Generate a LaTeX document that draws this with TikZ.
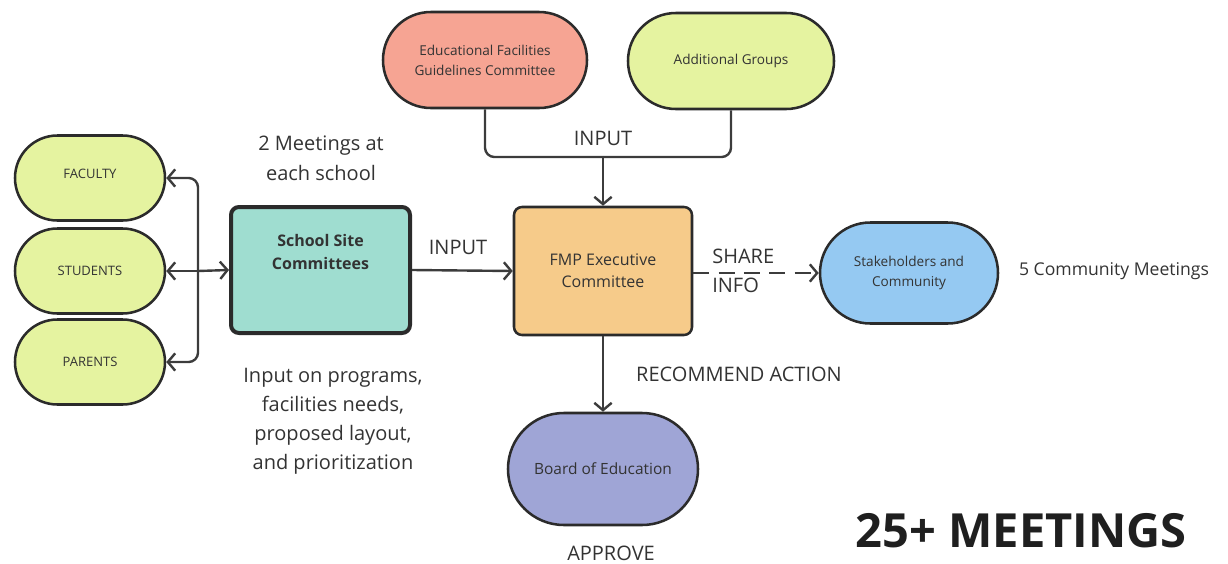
\documentclass[tikz,border=0pt]{standalone}
\usepackage{fontspec}
\setmainfont{Open Sans}
\usetikzlibrary{arrows.meta}
\definecolor{ink}{HTML}{2B2B2B}
\definecolor{txt}{HTML}{333333}
\definecolor{wire}{HTML}{3C3C3C}
\definecolor{limefill}{HTML}{E5F3A0}
\definecolor{tealfill}{HTML}{9FDDD0}
\definecolor{orangefill}{HTML}{F6CB8A}
\definecolor{salmonfill}{HTML}{F6A493}
\definecolor{skyfill}{HTML}{95C9F2}
\definecolor{lavfill}{HTML}{9FA5D6}
\tikzset{
  pill/.style={draw=ink, line width=1.9pt, text=txt, align=center, inner sep=0pt},
  box/.style={draw=ink, line width=1.9pt, text=txt, align=center, inner sep=0pt, rounded corners=6pt},
  arr/.style={draw=wire, line width=1.8pt, -{Straight Barb[length=5.5pt,width=13pt,line width=1.8pt]}},
  wireline/.style={draw=wire, line width=1.8pt},
  lbl/.style={text=txt, align=center, inner sep=0pt},
  caplbl/.style={lbl, font=\fontsize{15}{18}\selectfont},
}
\begin{document}
\begin{tikzpicture}[x=0.75pt,y=-0.75pt]
\useasboundingbox (0,0) rectangle (1228,564);

% stakeholder pills on the left
\node[pill, fill=limefill, minimum width=112.5pt, minimum height=63.75pt, rounded corners=31.8pt,
  font=\fontsize{9.75}{12}\selectfont, text depth=6pt] (faculty) at (90,178) {FACULTY};
\node[pill, fill=limefill, minimum width=112.5pt, minimum height=63.75pt, rounded corners=31.8pt,
  font=\fontsize{9.75}{12}\selectfont] (students) at (90,271) {STUDENTS};
\node[pill, fill=limefill, minimum width=112.5pt, minimum height=63.75pt, rounded corners=31.8pt,
  font=\fontsize{9.75}{12}\selectfont] (parents) at (90,362) {PARENTS};

% committees
\node[box, fill=tealfill, line width=3pt, minimum width=134.25pt, minimum height=94.5pt,
  label={[lbl, anchor=north, yshift=-22pt, font=\fontsize{12}{17}\selectfont\bfseries]north:School Site\\Committees}]
  (school) at (320.5,270) {};
\node[box, fill=orangefill, minimum width=133.5pt, minimum height=96pt,
  font=\fontsize{12}{16.5}\selectfont] (fmp) at (603,271) {FMP Executive\\Committee};

% upper inputs
\node[pill, fill=salmonfill, minimum width=153pt, minimum height=72pt, rounded corners=35.9pt,
  font=\fontsize{10.2}{15}\selectfont] (efgc) at (485,60) {Educational Facilities\\Guidelines Committee};
\node[pill, fill=limefill, minimum width=154.5pt, minimum height=72pt, rounded corners=35.9pt,
  font=\fontsize{10.2}{15}\selectfont] (groups) at (731,61) {Additional Groups};

% outputs
\node[pill, fill=skyfill, minimum width=133.5pt, minimum height=75.75pt, rounded corners=37.8pt,
  font=\fontsize{10.2}{14.5}\selectfont] (stake) at (909,273) {Stakeholders and\\Community};
\node[pill, fill=lavfill, minimum width=142.5pt, minimum height=84pt, rounded corners=41.9pt,
  font=\fontsize{11.6}{15}\selectfont] (board) at (603,469) {Board of Education};

% connectors on the left
\coordinate (hub) at (198,271);
\draw[arr] (hub) -- (school.west);
\draw[arr, rounded corners=7pt] (hub) |- (faculty.east);
\draw[arr] (hub) -- (students.east);
\draw[arr, rounded corners=7pt] (hub) |- (parents.east);

% inputs from above
\coordinate (join) at (603,157);
\draw[wireline, rounded corners=7pt] (efgc.south) |- (join);
\draw[wireline, rounded corners=7pt] (groups.south) |- (join);
\draw[arr] (join) -- (fmp.north);

% main flow
\draw[arr] (school.east) -- (fmp.west);
\draw[arr, dashed, dash pattern=on 12pt off 7pt] (fmp.east |- stake.west) -- (stake.west);
\draw[arr] (fmp.south) -- (board.north);

% labels
\node[caplbl] (inputtop) at (603,138) {INPUT};
\node[caplbl] (inputmid) at (458,247) {INPUT};
\node[caplbl, anchor=west] (share) at (712,256) {SHARE};
\node[caplbl, anchor=west] (info) at (712,285) {INFO};
\node[caplbl] (recommend) at (739,374) {RECOMMEND ACTION};
\node[caplbl] (approve) at (611,553) {APPROVE};
\node[lbl, font=\fontsize{15}{22.5}\selectfont] (meetings) at (321,158) {2 Meetings at\\each school};
\node[lbl, font=\fontsize{15}{21.75}\selectfont] (scope) at (333,421)
  {Input on programs,\\facilities needs,\\proposed layout,\\and prioritization};
\node[lbl, font=\fontsize{13.2}{16}\selectfont] (community) at (1114,271) {5 Community Meetings};
\node[text=black!88, inner sep=0pt, font=\fontsize{35.3}{40}\selectfont\bfseries] (total) at (1021,531) {25+ MEETINGS};
\end{tikzpicture}
\end{document}
